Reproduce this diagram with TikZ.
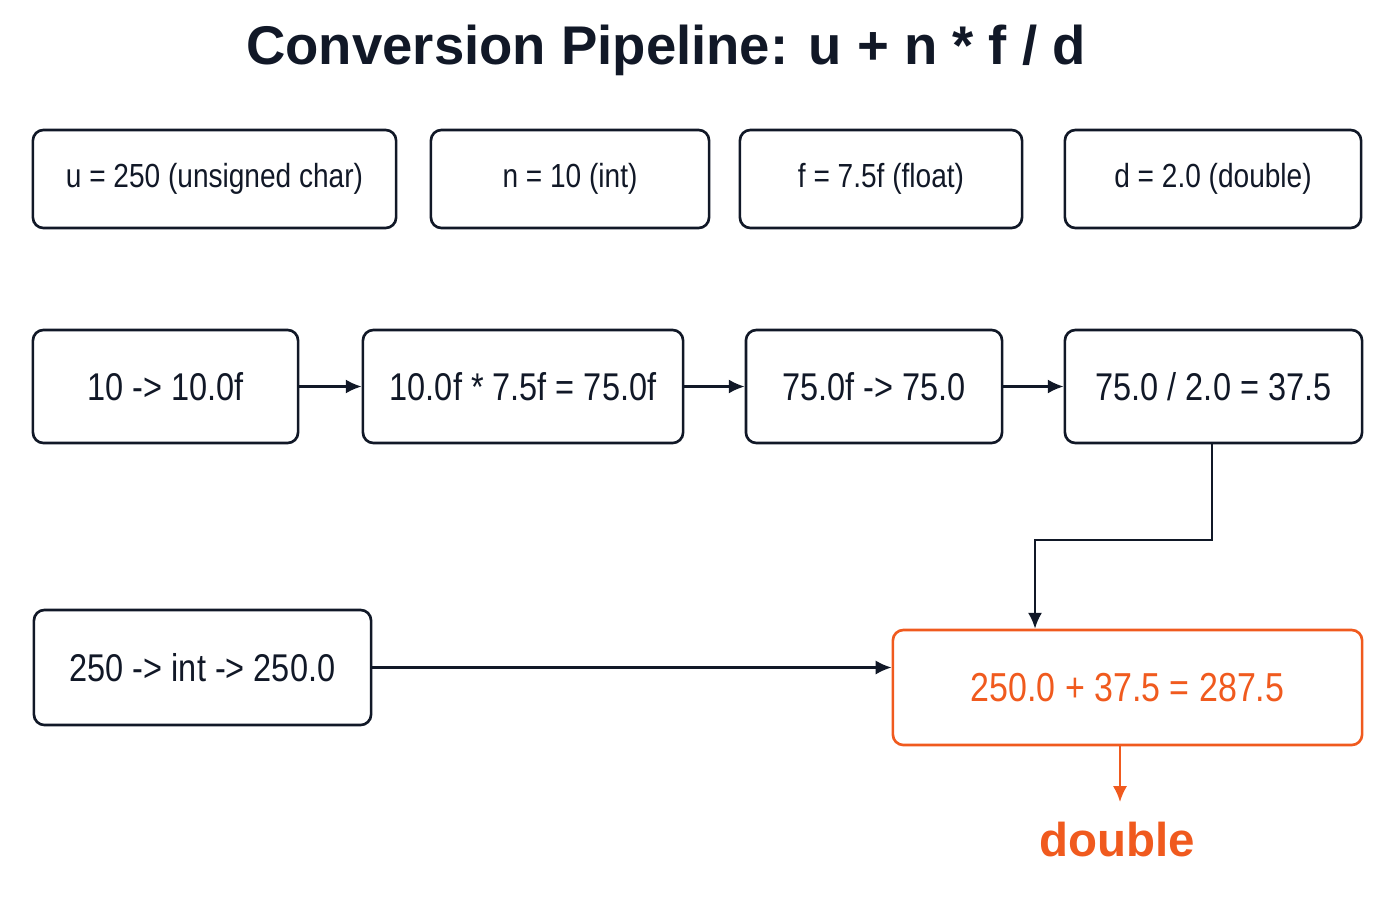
\documentclass[tikz,border=0pt]{standalone}
\usepackage{fontspec}
\setmainfont[FakeStretch=0.84]{Liberation Sans}
\newfontfamily\headfont{Liberation Sans}
\usetikzlibrary{arrows.meta, positioning}
\definecolor{ink}{HTML}{111827}
\definecolor{hot}{HTML}{F05A1E}
\tikzset{
  box/.style={rectangle, rounded corners=3pt, draw=ink, line width=0.75pt, text=ink, font=\fontsize{9.5}{11}\selectfont, text centered},
  stage/.style={box, font=\fontsize{11}{13}\selectfont},
  result/.style={box, draw=hot, text=hot, font=\fontsize{11.5}{13}\selectfont},
  arrow/.style={line width=0.6pt, draw=ink, -{Latex[length=4.5pt,width=4pt]}},
}
\begin{document}
\begin{tikzpicture}[x=0.01cm, y=-0.01cm]
\useasboundingbox (0,0) rectangle (1400,900);

% Title
\node (title) at (666,50) [font=\headfont\fontsize{15.5}{18}\selectfont\bfseries, text=ink] {Conversion Pipeline: u + n * f / d};

% Inputs
\node (u) [box, minimum width=3.63cm, minimum height=0.98cm] at (214.5,179) {u = 250 (unsigned char)};
\node (n) [box, minimum width=2.78cm, minimum height=0.98cm] at (570,179) {n = 10 (int)};
\node (f) [box, minimum width=2.82cm, minimum height=0.98cm] at (881,179) {f = 7.5f (float)};
\node (d) [box, minimum width=2.96cm, minimum height=0.98cm] at (1213,179) {d = 2.0 (double)};

% Stages
\node (ntof) [stage, minimum width=2.65cm, minimum height=1.13cm] at (165.5,386.5) {10 -> 10.0f};
\node (mul) [stage, minimum width=3.2cm, minimum height=1.13cm] at (523,386.5) {10.0f * 7.5f = 75.0f};
\node (ftod) [stage, minimum width=2.56cm, minimum height=1.13cm] at (874,386.5) {75.0f -> 75.0};
\node (div) [stage, minimum width=2.97cm, minimum height=1.13cm] at (1213.5,386.5) {75.0 / 2.0 = 37.5};

% Bottom
\node (utod) [stage, minimum width=3.37cm, minimum height=1.15cm] at (202.5,667.5) {250 -> int -> 250.0};
\node (sum) [result, minimum width=4.69cm, minimum height=1.15cm] at (1127.5,687.5) {250.0 + 37.5 = 287.5};
\node (type) at (1117,840) [font=\headfont\fontsize{13.5}{16}\selectfont\bfseries, text=hot] {double};

% Arrows
\draw [arrow] (ntof) -- (mul);
\draw [arrow] (mul) -- (ftod);
\draw [arrow] (ftod) -- (div);
\draw [arrow] (div.south -| 1212,0) -- (1212,540) -- (1035,540) -- (sum.north -| 1035,0);
\draw [arrow] (utod.east) -- (sum.west |- utod.east);
\draw [arrow, draw=hot] (sum.south -| 1120,0) -- (1120,802);

\end{tikzpicture}
\end{document}
